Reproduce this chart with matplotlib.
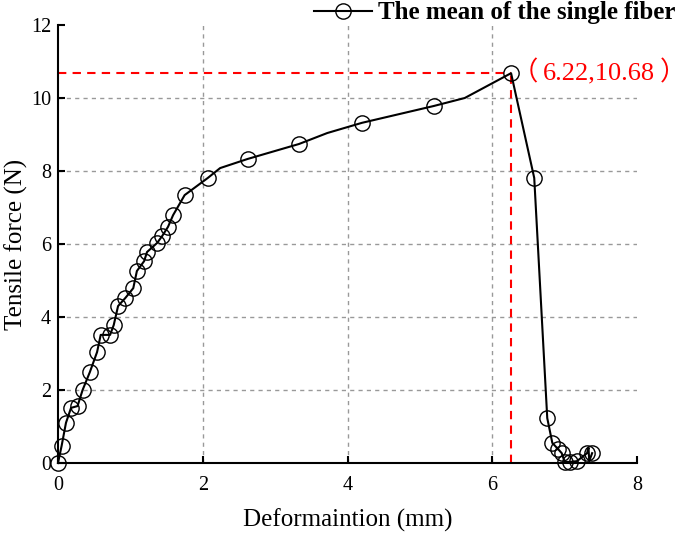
import matplotlib
matplotlib.use("Agg")
import matplotlib.pyplot as plt

# Data
deformation = [0.00, 0.05, 0.11, 0.18, 0.27, 0.34, 0.44, 0.54, 0.59, 0.72, 0.77, 0.83,
               0.93, 1.04, 1.09, 1.19, 1.23, 1.37, 1.44, 1.52, 1.59, 1.75, 2.07, 2.24,
               2.62, 3.33, 3.72, 4.20, 5.19, 5.62, 6.26, 6.58, 6.76, 6.83, 6.91, 6.96,
               7.00, 7.07, 7.17, 7.31, 7.33, 7.34, 7.38]
force = [0.00, 0.47, 1.10, 1.51, 1.56, 2.00, 2.49, 3.04, 3.51, 3.51, 3.78, 4.30,
         4.52, 4.79, 5.26, 5.53, 5.78, 6.03, 6.22, 6.47, 6.79, 7.34, 7.81, 8.08,
         8.33, 8.74, 9.04, 9.32, 9.78, 10.00, 10.68, 7.81, 1.23, 0.55, 0.38, 0.27,
         0.03, 0.03, 0.05, 0.27, 0.42, 0.05, 0.27]
marked = [0, 1, 2, 3, 4, 5, 6, 7, 8, 9, 10, 11, 12, 13, 14, 15, 16, 17, 18, 19, 20,
          21, 22, 24, 25, 27, 28, 30, 31, 32, 33, 34, 35, 36, 37, 38, 39, 42]
peak_x, peak_y = 6.26, 10.68
peak_text = "6.22,10.68"
paren_open, paren_close = "（", "）"
legend_label = "The mean of the single fiber"
x_ticks = [0, 2, 4, 6, 8]
y_ticks = [0, 2, 4, 6, 8, 10, 12]
x_label = "Deformaintion (mm)"
y_label = "Tensile force (N)"

plt.rcParams['font.family'] = ['Liberation Serif', 'Noto Sans CJK SC', 'DejaVu Sans']

fig = plt.figure(figsize=(6.85, 5.34), dpi=100)
ax = fig.add_axes([58/685, 1-463/534, (637-58)/685, (463-25)/534])

ax.set_xlim(0, 8)
ax.set_ylim(0, 12)
ax.set_xticks(x_ticks)
ax.set_yticks(y_ticks)

ax.grid(True, color='#999999', linestyle=(0, (3, 3)), linewidth=1.0)
for gl, t in zip(ax.xaxis.get_gridlines(), x_ticks):
    if t in (0, 8):
        gl.set_visible(False)
for gl, t in zip(ax.yaxis.get_gridlines(), y_ticks):
    if t in (0, 12):
        gl.set_visible(False)
ax.set_axisbelow(True)

ax.plot([0, peak_x], [peak_y, peak_y], color='red', linestyle=(0, (4, 3)), linewidth=1.5, zorder=2)
ax.plot([peak_x, peak_x], [0, peak_y], color='red', linestyle=(0, (4, 3)), linewidth=1.5, zorder=2)

line, = ax.plot(deformation, force, color='black', linewidth=1.5, marker='o',
                markersize=11, markerfacecolor='none', markeredgecolor='black',
                markeredgewidth=1.0, markevery=marked, label=legend_label, zorder=3,
                clip_on=False)

fs_ann = 19
t1 = ax.annotate(paren_open, xy=(6.27, peak_y), color='red', fontsize=fs_ann,
                 va='center', ha='left', family='Noto Sans CJK SC')
t2 = ax.annotate(peak_text, xy=(1, 0.5), xycoords=t1, xytext=(3.3, 0),
                 textcoords='offset points', color='red', fontsize=fs_ann,
                 va='center', ha='left', family='Liberation Serif')
t3 = ax.annotate(paren_close, xy=(1, 0.5), xycoords=t2, xytext=(3.3, 0),
                 textcoords='offset points', color='red', fontsize=fs_ann,
                 va='center', ha='left', family='Noto Sans CJK SC')

for s in ['top', 'right']:
    ax.spines[s].set_visible(False)
for s in ['left', 'bottom']:
    ax.spines[s].set_linewidth(1.5)
ax.tick_params(direction='in', length=5, width=1.5, labelsize=14.5)
ax.tick_params(axis='x', pad=9)
ax.tick_params(axis='y', pad=5)

ax.set_xlabel(x_label, fontsize=18, labelpad=10)
ax.set_ylabel(y_label, fontsize=18, labelpad=2)

fig.legend(handles=[line], loc='center left', bbox_to_anchor=(314/685, 1-13/534),
           frameon=False, borderpad=0, borderaxespad=0, handlelength=2.3,
           handletextpad=0.25, prop={'family': 'Liberation Serif', 'weight': 'bold', 'size': 18})

fig.savefig('out.png', dpi=100)
